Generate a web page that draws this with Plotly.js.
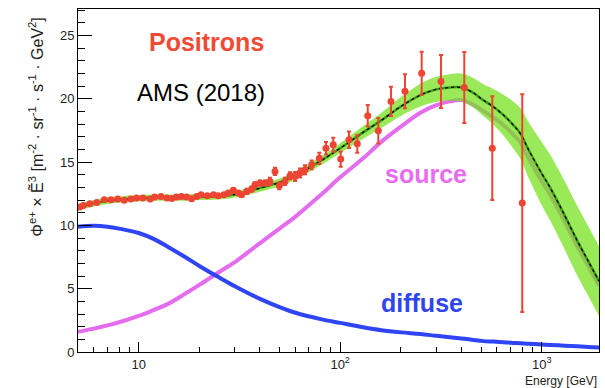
<!DOCTYPE html>
<html><head><meta charset="utf-8">
<script src="https://cdn.plot.ly/plotly-3.0.1.min.js"></script>
<style>html,body{margin:0;padding:0;background:#fff}#chart{width:605px;height:388px}</style>
</head><body><div id="chart"></div>
<script>
// Model curves
const curveE = [5, 6, 7, 8, 10, 12, 14, 17, 20, 25, 30, 40, 50, 60, 80, 100, 130, 160, 200, 250, 300, 350, 400, 450, 513, 573, 643, 721, 781, 859, 1000, 1100, 1300, 1500, 1700, 1925];
const diffuseVals = [9.9, 9.97, 9.9, 9.75, 9.4, 8.9, 8.3, 7.5, 6.8, 5.9, 5.2, 4.2, 3.55, 3.1, 2.6, 2.3, 1.95, 1.72, 1.55, 1.42, 1.28, 1.17, 1.07, 0.97, 0.86, 0.82, 0.77, 0.72, 0.7, 0.66, 0.6, 0.56, 0.5, 0.45, 0.4, 0.36];
const sourceVals = [1.6, 1.85, 2.1, 2.35, 2.85, 3.35, 3.8, 4.6, 5.3, 6.3, 7.1, 8.6, 9.75, 10.7, 12.4, 13.8, 15.3, 16.6, 17.8, 18.9, 19.5, 19.8, 19.9, 19.6, 19.05, 18.55, 17.95, 17.2, 16.6, 15.35, 13.5, 12.45, 10.3, 8.35, 6.8, 5.25];
const fitVals = [11.45, 11.75, 11.95, 12.05, 12.15, 12.2, 12.2, 12.2, 12.25, 12.3, 12.45, 12.95, 13.4, 13.95, 15.1, 16.1, 17.35, 18.3, 19.4, 20.3, 20.75, 20.9, 20.9, 20.55, 19.9, 19.4, 18.75, 17.95, 17.3, 16.0, 14.1, 13.0, 10.8, 8.8, 7.2, 5.6];
const bandLow = [11.2, 11.5, 11.7, 11.8, 11.9, 11.95, 11.95, 11.95, 12.0, 12.05, 12.2, 12.67, 13.1, 13.63, 14.75, 15.7, 16.85, 17.7, 18.65, 19.4, 19.75, 19.85, 19.8, 19.4, 18.65, 18.0, 17.15, 16.1, 15.3, 13.8, 11.6, 10.4, 8.1, 6.05, 4.45, 2.85];
const bandHigh = [11.7, 12.0, 12.2, 12.3, 12.4, 12.45, 12.45, 12.45, 12.5, 12.55, 12.7, 13.23, 13.7, 14.27, 15.45, 16.5, 17.85, 18.9, 20.15, 21.2, 21.75, 21.95, 22.0, 21.7, 21.15, 20.8, 20.35, 19.8, 19.3, 18.2, 16.6, 15.6, 13.5, 11.55, 9.95, 8.35];

// AMS (2018) positron data points
const dataE = [5.1, 5.31, 5.73, 6.19, 6.75, 7.29, 7.87, 8.48, 9.16, 9.77, 10.5, 11.4, 12.0, 12.9, 13.8, 14.6, 15.4, 16.3, 17.3, 18.3, 19.4, 20.4, 21.9, 23.5, 24.8, 26.5, 27.8, 29.5, 31.2, 32.4, 34.4, 36.4, 37.8, 40.0, 42.4, 44.8, 47.5, 49.9, 53.2, 56.4, 59.7, 63.2, 66.9, 72.2, 78.8, 85.0, 92.4, 100.6, 110.6, 121.6, 137, 154.6, 178.7, 209.7, 253.8, 316.4, 413, 568.6, 801];
const dataFlux = [11.45, 11.58, 11.71, 11.82, 12.03, 12.03, 12.08, 11.98, 12.08, 12.16, 12.16, 12.08, 12.24, 12.29, 12.16, 12.13, 12.24, 12.29, 12.24, 12.11, 12.29, 12.42, 12.35, 12.42, 12.35, 12.42, 12.56, 12.77, 12.56, 12.42, 12.69, 12.87, 13.21, 13.35, 13.35, 13.48, 14.27, 13.14, 13.48, 13.93, 13.87, 14.14, 14.4, 14.79, 15.3, 16.1, 16.37, 15.24, 16.77, 16.45, 18.66, 17.48, 19.8, 20.6, 22.03, 21.37, 20.9, 16.1, 11.77];
const dataErr = [0.12, 0.12, 0.12, 0.12, 0.12, 0.12, 0.12, 0.12, 0.12, 0.12, 0.12, 0.12, 0.12, 0.12, 0.12, 0.12, 0.12, 0.12, 0.12, 0.12, 0.12, 0.12, 0.12, 0.12, 0.12, 0.15, 0.15, 0.15, 0.15, 0.15, 0.2, 0.2, 0.2, 0.2, 0.2, 0.28, 0.28, 0.28, 0.28, 0.28, 0.35, 0.35, 0.35, 0.35, 0.45, 0.5, 0.55, 0.6, 0.65, 0.7, 0.85, 1.0, 1.15, 1.35, 1.7, 2.1, 2.8, 4.1, 8.6];

const xTickVals = [10, 100, 1000];
const xTickText = ['10', '10<sup>2</sup>', '10<sup>3</sup>'];
const xMinorVals = [6, 7, 8, 9, 20, 30, 40, 50, 60, 70, 80, 90, 200, 300, 400, 500, 600, 700, 800, 900];

const RED = '#ee4433';
const traces = [
  {x: curveE, y: sourceVals, type: 'scatter', mode: 'lines', line: {color: '#e46cee', width: 4, shape: 'spline'}, hoverinfo: 'skip'},
  {x: curveE, y: diffuseVals, type: 'scatter', mode: 'lines', line: {color: '#2f45f5', width: 4, shape: 'spline'}, hoverinfo: 'skip'},
  {x: curveE, y: bandLow, type: 'scatter', mode: 'lines', line: {width: 0, shape: 'spline'}, hoverinfo: 'skip'},
  {x: curveE, y: bandHigh, type: 'scatter', mode: 'lines', fill: 'tonexty', fillcolor: 'rgba(115,225,25,0.72)', line: {width: 0, shape: 'spline'}, hoverinfo: 'skip'},
  {x: curveE, y: fitVals, type: 'scatter', mode: 'lines', line: {color: '#3a9a10', width: 2.5, shape: 'spline'}, hoverinfo: 'skip'},
  {x: curveE, y: fitVals, type: 'scatter', mode: 'lines', line: {color: '#000', width: 1.3, dash: 'dot', shape: 'spline'}, hoverinfo: 'skip'},
  {x: dataE, y: dataFlux, type: 'scatter', mode: 'markers', marker: {color: RED, size: 7},
   error_y: {type: 'data', array: dataErr, visible: true, color: RED, thickness: 2, width: 2}}
];

const tickFont = {family: 'Liberation Sans, Arial, sans-serif', size: 13, color: '#222'};
const layout = {
  width: 605, height: 388,
  margin: {l: 78, r: 6, t: 9, b: 36},
  paper_bgcolor: '#fff', plot_bgcolor: '#fff',
  showlegend: false,
  xaxis: {
    type: 'log', range: [Math.log10(5), Math.log10(1925)],
    tickmode: 'array', tickvals: xTickVals, ticktext: xTickText,
    ticks: 'inside', ticklen: 10, tickwidth: 1, tickcolor: '#000',
    minor: {tickmode: 'array', tickvals: xMinorVals, ticks: 'inside', ticklen: 5, tickwidth: 1, tickcolor: '#000', showgrid: false},
    showline: true, linecolor: '#000', linewidth: 1, mirror: true,
    showgrid: false, zeroline: false, tickfont: tickFont
  },
  yaxis: {
    range: [0, 27.1], dtick: 5, tick0: 0,
    ticks: 'inside', ticklen: 14, tickwidth: 1, tickcolor: '#000',
    minor: {dtick: 1, ticks: 'inside', ticklen: 7, tickwidth: 1, tickcolor: '#000', showgrid: false},
    showline: true, linecolor: '#000', linewidth: 1, mirror: true,
    showgrid: false, zeroline: false, tickfont: tickFont
  },
  annotations: [
    {xref: 'paper', yref: 'paper', x: 0.2457, y: 0.903, xanchor: 'center', yanchor: 'middle', showarrow: false,
     text: '<b>Positrons</b>', font: {family: 'Liberation Sans, Arial, sans-serif', size: 25, color: '#ef4a34'}},
    {xref: 'paper', yref: 'paper', x: 0.236, y: 0.757, xanchor: 'center', yanchor: 'middle', showarrow: false,
     text: 'AMS (2018)', font: {family: 'Liberation Sans, Arial, sans-serif', size: 24, color: '#000'}},
    {xref: 'paper', yref: 'paper', x: 0.668, y: 0.52, xanchor: 'center', yanchor: 'middle', showarrow: false,
     text: '<b>source</b>', font: {family: 'Liberation Sans, Arial, sans-serif', size: 25, color: '#e86cf0'}},
    {xref: 'paper', yref: 'paper', x: 0.66, y: 0.143, xanchor: 'center', yanchor: 'middle', showarrow: false,
     text: '<b>diffuse</b>', font: {family: 'Liberation Sans, Arial, sans-serif', size: 25, color: '#2f45f0'}},
    {xref: 'paper', yref: 'paper', x: 1.0, y: -0.084, xanchor: 'right', yanchor: 'middle', showarrow: false,
     text: 'Energy [GeV]', font: {family: 'Liberation Sans, Arial, sans-serif', size: 12, color: '#222'}},
    {xref: 'paper', yref: 'paper', x: -0.0806, y: 0.654, xanchor: 'center', yanchor: 'middle', showarrow: false, textangle: -90,
     text: 'Φ<sup>e+</sup> × E\u0303<sup>3</sup> [m<sup>-2</sup> · sr<sup>-1</sup> · s<sup>-1</sup> · GeV<sup>2</sup>]',
     font: {family: 'Liberation Sans, Arial, sans-serif', size: 16, color: '#222'}}
  ]
};
Plotly.newPlot('chart', traces, layout, {staticPlot: true, displayModeBar: false});
</script></body></html>
